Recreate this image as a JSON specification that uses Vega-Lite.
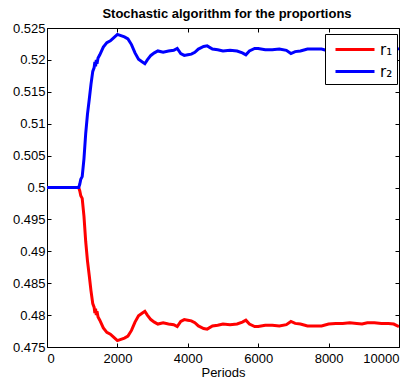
{
  "$schema": "https://vega.github.io/schema/vega-lite/v6.json",
  "width": 352,
  "height": 319,
  "autosize": {"type": "none"},
  "padding": {"left": 47, "top": 28, "right": 19, "bottom": 32},
  "background": "white",
  "title": {"text": "Stochastic algorithm for the proportions", "font": "Liberation Sans", "fontSize": 13, "fontWeight": "bold", "color": "black", "baseline": "alphabetic", "offset": -9, "anchor": "middle", "dx": 4},
  "config": {
    "view": {"stroke": "black", "strokeWidth": 1},
    "axis": {"font": "Liberation Sans", "labelFont": "Liberation Sans", "labelFontSize": 13, "labelColor": "black", "tickColor": "black", "domainColor": "black", "tickSize": -4, "grid": false, "titleFont": "Liberation Sans", "titleFontSize": 13, "titleFontWeight": "normal", "titleColor": "black"}
  },
  "data": {"values": [
    {"period": 0, "series": "r₁", "value": 0.5},
    {"period": 900, "series": "r₁", "value": 0.5},
    {"period": 930, "series": "r₁", "value": 0.4995},
    {"period": 960, "series": "r₁", "value": 0.4987},
    {"period": 1000, "series": "r₁", "value": 0.4983},
    {"period": 1050, "series": "r₁", "value": 0.4955},
    {"period": 1100, "series": "r₁", "value": 0.4915},
    {"period": 1150, "series": "r₁", "value": 0.4885},
    {"period": 1200, "series": "r₁", "value": 0.4862},
    {"period": 1250, "series": "r₁", "value": 0.4838},
    {"period": 1300, "series": "r₁", "value": 0.4818},
    {"period": 1340, "series": "r₁", "value": 0.4812},
    {"period": 1360, "series": "r₁", "value": 0.4803},
    {"period": 1380, "series": "r₁", "value": 0.481},
    {"period": 1400, "series": "r₁", "value": 0.48},
    {"period": 1420, "series": "r₁", "value": 0.4806},
    {"period": 1450, "series": "r₁", "value": 0.4797},
    {"period": 1500, "series": "r₁", "value": 0.4792},
    {"period": 1600, "series": "r₁", "value": 0.478},
    {"period": 1700, "series": "r₁", "value": 0.4773},
    {"period": 1800, "series": "r₁", "value": 0.477},
    {"period": 1900, "series": "r₁", "value": 0.4765},
    {"period": 2000, "series": "r₁", "value": 0.476},
    {"period": 2100, "series": "r₁", "value": 0.4762},
    {"period": 2200, "series": "r₁", "value": 0.4764},
    {"period": 2300, "series": "r₁", "value": 0.4767},
    {"period": 2400, "series": "r₁", "value": 0.4776},
    {"period": 2500, "series": "r₁", "value": 0.4789},
    {"period": 2600, "series": "r₁", "value": 0.4799},
    {"period": 2700, "series": "r₁", "value": 0.4803},
    {"period": 2780, "series": "r₁", "value": 0.4806},
    {"period": 2850, "series": "r₁", "value": 0.48},
    {"period": 2950, "series": "r₁", "value": 0.4793},
    {"period": 3050, "series": "r₁", "value": 0.4789},
    {"period": 3150, "series": "r₁", "value": 0.4786},
    {"period": 3300, "series": "r₁", "value": 0.4788},
    {"period": 3450, "series": "r₁", "value": 0.4786},
    {"period": 3600, "series": "r₁", "value": 0.4785},
    {"period": 3700, "series": "r₁", "value": 0.4782},
    {"period": 3800, "series": "r₁", "value": 0.479},
    {"period": 3900, "series": "r₁", "value": 0.4793},
    {"period": 4000, "series": "r₁", "value": 0.4792},
    {"period": 4100, "series": "r₁", "value": 0.4791},
    {"period": 4200, "series": "r₁", "value": 0.4788},
    {"period": 4300, "series": "r₁", "value": 0.4783},
    {"period": 4450, "series": "r₁", "value": 0.4779},
    {"period": 4550, "series": "r₁", "value": 0.4778},
    {"period": 4700, "series": "r₁", "value": 0.4783},
    {"period": 4850, "series": "r₁", "value": 0.4784},
    {"period": 5000, "series": "r₁", "value": 0.4786},
    {"period": 5200, "series": "r₁", "value": 0.4785},
    {"period": 5400, "series": "r₁", "value": 0.4786},
    {"period": 5550, "series": "r₁", "value": 0.4789},
    {"period": 5650, "series": "r₁", "value": 0.4792},
    {"period": 5750, "series": "r₁", "value": 0.4786},
    {"period": 5900, "series": "r₁", "value": 0.4782},
    {"period": 6000, "series": "r₁", "value": 0.4782},
    {"period": 6200, "series": "r₁", "value": 0.4784},
    {"period": 6400, "series": "r₁", "value": 0.4784},
    {"period": 6600, "series": "r₁", "value": 0.4783},
    {"period": 6800, "series": "r₁", "value": 0.4785},
    {"period": 6930, "series": "r₁", "value": 0.479},
    {"period": 7050, "series": "r₁", "value": 0.4787},
    {"period": 7200, "series": "r₁", "value": 0.4786},
    {"period": 7400, "series": "r₁", "value": 0.4783},
    {"period": 7600, "series": "r₁", "value": 0.4783},
    {"period": 7800, "series": "r₁", "value": 0.4783},
    {"period": 8000, "series": "r₁", "value": 0.4786},
    {"period": 8200, "series": "r₁", "value": 0.4787},
    {"period": 8400, "series": "r₁", "value": 0.4787},
    {"period": 8600, "series": "r₁", "value": 0.4788},
    {"period": 8800, "series": "r₁", "value": 0.4787},
    {"period": 8950, "series": "r₁", "value": 0.4786},
    {"period": 9100, "series": "r₁", "value": 0.4788},
    {"period": 9300, "series": "r₁", "value": 0.4788},
    {"period": 9500, "series": "r₁", "value": 0.4787},
    {"period": 9700, "series": "r₁", "value": 0.4787},
    {"period": 9850, "series": "r₁", "value": 0.4786},
    {"period": 10000, "series": "r₁", "value": 0.4782},
    {"period": 0, "series": "r₂", "value": 0.5},
    {"period": 900, "series": "r₂", "value": 0.5},
    {"period": 930, "series": "r₂", "value": 0.5005},
    {"period": 960, "series": "r₂", "value": 0.5013},
    {"period": 1000, "series": "r₂", "value": 0.5017},
    {"period": 1050, "series": "r₂", "value": 0.5045},
    {"period": 1100, "series": "r₂", "value": 0.5085},
    {"period": 1150, "series": "r₂", "value": 0.5115},
    {"period": 1200, "series": "r₂", "value": 0.5138},
    {"period": 1250, "series": "r₂", "value": 0.5162},
    {"period": 1300, "series": "r₂", "value": 0.5182},
    {"period": 1340, "series": "r₂", "value": 0.5188},
    {"period": 1360, "series": "r₂", "value": 0.5197},
    {"period": 1380, "series": "r₂", "value": 0.519},
    {"period": 1400, "series": "r₂", "value": 0.52},
    {"period": 1420, "series": "r₂", "value": 0.5194},
    {"period": 1450, "series": "r₂", "value": 0.5203},
    {"period": 1500, "series": "r₂", "value": 0.5208},
    {"period": 1600, "series": "r₂", "value": 0.522},
    {"period": 1700, "series": "r₂", "value": 0.5227},
    {"period": 1800, "series": "r₂", "value": 0.523},
    {"period": 1900, "series": "r₂", "value": 0.5235},
    {"period": 2000, "series": "r₂", "value": 0.524},
    {"period": 2100, "series": "r₂", "value": 0.5238},
    {"period": 2200, "series": "r₂", "value": 0.5236},
    {"period": 2300, "series": "r₂", "value": 0.5233},
    {"period": 2400, "series": "r₂", "value": 0.5224},
    {"period": 2500, "series": "r₂", "value": 0.5211},
    {"period": 2600, "series": "r₂", "value": 0.5201},
    {"period": 2700, "series": "r₂", "value": 0.5197},
    {"period": 2780, "series": "r₂", "value": 0.5194},
    {"period": 2850, "series": "r₂", "value": 0.52},
    {"period": 2950, "series": "r₂", "value": 0.5207},
    {"period": 3050, "series": "r₂", "value": 0.5211},
    {"period": 3150, "series": "r₂", "value": 0.5214},
    {"period": 3300, "series": "r₂", "value": 0.5212},
    {"period": 3450, "series": "r₂", "value": 0.5214},
    {"period": 3600, "series": "r₂", "value": 0.5215},
    {"period": 3700, "series": "r₂", "value": 0.5218},
    {"period": 3800, "series": "r₂", "value": 0.521},
    {"period": 3900, "series": "r₂", "value": 0.5207},
    {"period": 4000, "series": "r₂", "value": 0.5208},
    {"period": 4100, "series": "r₂", "value": 0.5209},
    {"period": 4200, "series": "r₂", "value": 0.5212},
    {"period": 4300, "series": "r₂", "value": 0.5217},
    {"period": 4450, "series": "r₂", "value": 0.5221},
    {"period": 4550, "series": "r₂", "value": 0.5222},
    {"period": 4700, "series": "r₂", "value": 0.5217},
    {"period": 4850, "series": "r₂", "value": 0.5216},
    {"period": 5000, "series": "r₂", "value": 0.5214},
    {"period": 5200, "series": "r₂", "value": 0.5215},
    {"period": 5400, "series": "r₂", "value": 0.5214},
    {"period": 5550, "series": "r₂", "value": 0.5211},
    {"period": 5650, "series": "r₂", "value": 0.5208},
    {"period": 5750, "series": "r₂", "value": 0.5214},
    {"period": 5900, "series": "r₂", "value": 0.5218},
    {"period": 6000, "series": "r₂", "value": 0.5218},
    {"period": 6200, "series": "r₂", "value": 0.5216},
    {"period": 6400, "series": "r₂", "value": 0.5216},
    {"period": 6600, "series": "r₂", "value": 0.5217},
    {"period": 6800, "series": "r₂", "value": 0.5215},
    {"period": 6930, "series": "r₂", "value": 0.521},
    {"period": 7050, "series": "r₂", "value": 0.5213},
    {"period": 7200, "series": "r₂", "value": 0.5214},
    {"period": 7400, "series": "r₂", "value": 0.5217},
    {"period": 7600, "series": "r₂", "value": 0.5217},
    {"period": 7800, "series": "r₂", "value": 0.5217},
    {"period": 8000, "series": "r₂", "value": 0.5214},
    {"period": 8200, "series": "r₂", "value": 0.5213},
    {"period": 8400, "series": "r₂", "value": 0.5213},
    {"period": 8600, "series": "r₂", "value": 0.5212},
    {"period": 8800, "series": "r₂", "value": 0.5213},
    {"period": 8950, "series": "r₂", "value": 0.5214},
    {"period": 9100, "series": "r₂", "value": 0.5212},
    {"period": 9300, "series": "r₂", "value": 0.5212},
    {"period": 9500, "series": "r₂", "value": 0.5213},
    {"period": 9700, "series": "r₂", "value": 0.5213},
    {"period": 9850, "series": "r₂", "value": 0.5214},
    {"period": 10000, "series": "r₂", "value": 0.5218}
  ]},
  "layer": [
    {
      "mark": {"type": "line", "strokeWidth": 3, "clip": true, "interpolate": "linear"},
      "encoding": {
        "x": {"field": "period", "type": "quantitative", "scale": {"domain": [0, 10000], "nice": false}, "axis": {"orient": "bottom", "values": [0, 2000, 4000, 6000, 8000, 10000], "format": "d", "title": "Periods", "labelPadding": 9, "titlePadding": 1, "domain": false}},
        "y": {"field": "value", "type": "quantitative", "scale": {"domain": [0.475, 0.525], "nice": false, "zero": false}, "axis": {"orient": "left", "values": [0.475, 0.48, 0.485, 0.49, 0.495, 0.5, 0.505, 0.51, 0.515, 0.52, 0.525], "format": "~g", "title": null, "labelPadding": 6, "domain": false}},
        "color": {"field": "series", "type": "nominal", "scale": {"domain": ["r₁", "r₂"], "range": ["#ff0000", "#0000ff"]},
          "legend": {"orient": "none", "legendX": 278, "legendY": 6, "title": null, "strokeColor": "black", "fillColor": "white", "padding": 4, "symbolType": "M-0.5,0H3.4", "symbolSize": 400, "symbolStrokeWidth": 3, "labelFont": "DejaVu Sans", "labelFontSize": 15, "labelColor": "black", "labelOffset": 28, "rowPadding": 2}}
      }
    },
    {
      "mark": {"type": "line", "opacity": 0},
      "encoding": {
        "x": {"field": "period", "type": "quantitative", "axis": {"orient": "top", "values": [0, 2000, 4000, 6000, 8000, 10000], "labels": false, "title": null, "domain": false}},
        "y": {"field": "value", "type": "quantitative", "axis": {"orient": "right", "values": [0.475, 0.48, 0.485, 0.49, 0.495, 0.5, 0.505, 0.51, 0.515, 0.52, 0.525], "labels": false, "title": null, "domain": false}},
        "detail": {"field": "series", "type": "nominal"}
      }
    }
  ],
  "resolve": {"axis": {"x": "independent", "y": "independent"}}
}
